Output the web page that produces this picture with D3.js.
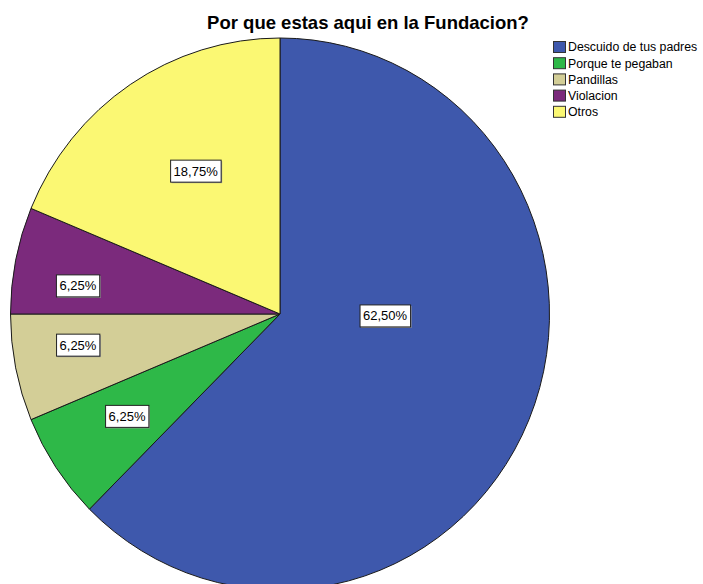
<!DOCTYPE html>
<html>
<head>
    <meta http-equiv="Content-Type" content="text/html;charset=utf-8">
    <title>Por que estas aqui en la Fundacion?</title>
    <script type="text/javascript" src="https://d3js.org/d3.v7.min.js"></script>
    <style>
        html, body {
            margin: 0;
            padding: 0;
            background: #fff;
        }
        text {
            font-family: "Liberation Sans", Arial, sans-serif;
        }
        text.title {
            font-size: 18.5px;
            font-weight: bold;
        }
        text.legendText {
            font-size: 12.3px;
        }
        text.valueText {
            font-size: 13px;
        }
        path.slice {
            stroke: #1a1a1a;
            stroke-width: 1px;
            vector-effect: non-scaling-stroke;
        }
    </style>
</head>
<body>
<script type="text/javascript">

    // data
    var categories = ["Descuido de tus padres", "Porque te pegaban", "Pandillas", "Violacion", "Otros"];
    var percents = [62.5, 6.25, 6.25, 6.25, 18.75];
    var valueLabels = ["62,50%", "6,25%", "6,25%", "6,25%", "18,75%"];

    var colorTable = ["#3e58ac", "#2eb848", "#d3ce97", "#7b2a7c", "#fbf873"];

    var width = 703, height = 584;
    var cx = 280, cy = 314;
    var rx = 269.5, ry = 276;   // the pie is drawn a little taller than wide

    // label placement: fraction of radius, and angle shift (deg) from mid-angle
    var labelRadius = [0.39, 0.678, 0.758, 0.757, 0.605];
    var labelShift = [-21.5, 0.6, 2.7, -3.5, 2.6];

    var svg = d3.select("body").append("svg")
        .attr("width", width)
        .attr("height", height);

    svg.append("text")
        .attr("class", "title")
        .attr("x", 368)
        .attr("y", 29)
        .attr("text-anchor", "middle")
        .text("Por que estas aqui en la Fundacion?");

    var pie = d3.pie().sort(null).value(function(d) { return d; });
    var arcs = pie(percents);

    var arc = d3.arc().innerRadius(0).outerRadius(rx);

    var pieGroup = svg.append("g")
        .attr("transform", "translate(" + cx + "," + cy + ") scale(1," + (ry / rx) + ")");

    pieGroup.selectAll(".slice")
        .data(arcs).enter()
        .append("path")
        .attr("class", "slice")
        .attr("d", arc)
        .style("fill", function(d, i) { return colorTable[i]; });

    // value labels
    var labelGroup = svg.append("g").attr("transform", "translate(" + cx + "," + cy + ")");
    var labels = labelGroup.selectAll(".valueLabel")
        .data(arcs).enter()
        .append("g")
        .attr("class", "valueLabel")
        .attr("transform", function(d, i) {
            var a = (d.startAngle + d.endAngle) / 2 + labelShift[i] * Math.PI / 180;
            var x = Math.sin(a) * rx * labelRadius[i];
            var y = -Math.cos(a) * ry * labelRadius[i];
            return "translate(" + x + "," + y + ")";
        });

    labels.append("text")
        .attr("class", "valueText")
        .attr("text-anchor", "middle")
        .attr("dy", ".35em")
        .text(function(d, i) { return valueLabels[i]; });

    labels.each(function() {
        var g = d3.select(this);
        var bb = g.select("text").node().getBBox();
        var padX = 3, padY = 3.5;
        g.insert("rect", "text")
            .attr("x", bb.x - padX + 1)
            .attr("y", bb.y - padY + 1)
            .attr("width", bb.width + padX * 2)
            .attr("height", bb.height + padY * 2)
            .style("fill", "#999");
        g.insert("rect", "text")
            .attr("x", bb.x - padX)
            .attr("y", bb.y - padY)
            .attr("width", bb.width + padX * 2)
            .attr("height", bb.height + padY * 2)
            .style("fill", "#fff")
            .style("stroke", "#222")
            .style("stroke-width", 1);
    });

    // legend
    var legend = svg.append("g")
        .attr("class", "legendWrap")
        .attr("transform", "translate(553,41)");

    var item = legend.selectAll(".legend")
        .data(categories).enter()
        .append("g")
        .attr("class", "legend")
        .attr("transform", function(d, i) { return "translate(0," + (i * 16.2) + ")"; });

    item.append("rect")
        .attr("x", 0.5)
        .attr("y", 0.5)
        .attr("width", 12)
        .attr("height", 11)
        .style("fill", function(d, i) { return colorTable[i]; })
        .style("stroke", "#333");

    item.append("text")
        .attr("class", "legendText")
        .attr("x", 15)
        .attr("y", 6)
        .attr("dy", ".35em")
        .text(function(d) { return d; });

</script>
</body>
</html>
